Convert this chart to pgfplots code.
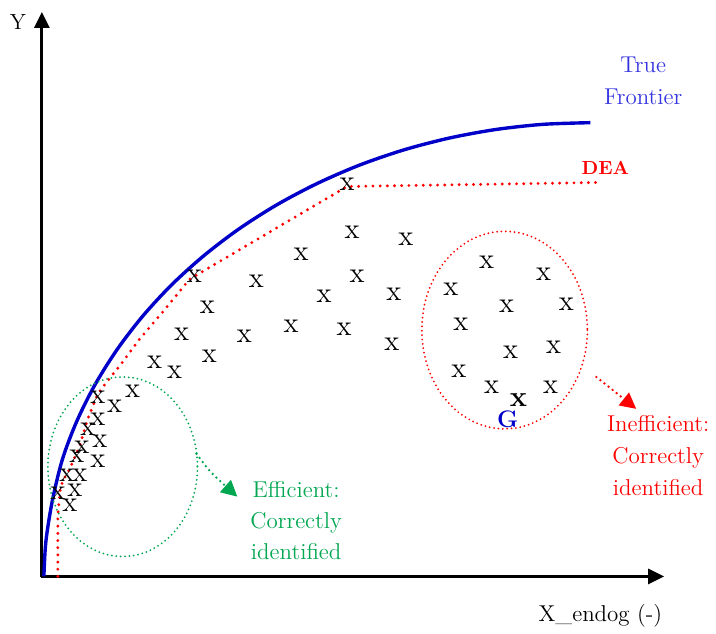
\documentclass[border=0pt]{standalone}
\usepackage{pgfplots}
\pgfplotsset{compat=1.18}
\usetikzlibrary{arrows.meta}
\definecolor{frontblue}{HTML}{0000C8}
\definecolor{textblue}{HTML}{3535E0}
\definecolor{deared}{HTML}{FF0000}
\definecolor{effgreen}{HTML}{00A650}
\begin{document}
\begin{tikzpicture}
\begin{axis}[
  width=358pt, height=315.5pt, scale only axis,
  xmin=0, xmax=716, ymin=0, ymax=631, y dir=reverse,
  axis line style={draw=none}, ticks=none, clip=false,
]
% axes
\addplot[black, line width=1.5pt, -{Triangle[length=8pt,width=7.5pt]}] coordinates {(42,579) (42,12)};
\addplot[black, line width=1.5pt, -{Triangle[length=8pt,width=7.5pt]}] coordinates {(41,578) (666,578)};
% true frontier
\addplot[frontblue, line width=1.7pt, smooth] coordinates {
(44,578) (46,543) (52.5,502) (62.7,460.2) (77,422.4) (95.3,385.7) (117.4,350.5)
(143.1,317) (172.2,285.5) (204.5,256.3) (239.7,229.5) (277.7,205.3) (318,184)
(360.4,165.6) (404.6,150.4) (450.2,138.5) (496.9,129.9) (544.2,124.7) (592,123)};
% DEA
\addplot[deared, line width=1.6pt, line cap=round, dash pattern=on 0pt off 3.6pt] coordinates {
(58,578) (58,517) (60,493) (63,482) (70,470) (80,447) (88,420) (98,395)
(107,383) (123,363) (140,340) (163,313) (190,280) (348,187) (600,183)};
% DMUs
\addplot[black, only marks, mark=text, text mark={\fontsize{14.5}{14.5}\selectfont x}] coordinates {
(348,185) (353,233) (407,240) (302,255) (195,277) (257,282) (358,277)
(325,297) (395,295) (208,308) (182,335) (245,337) (292,327) (345,330)
(393,345) (210,357) (155,363) (175,373) (133,392) (98,398) (115,407)
(98,420) (88,430) (100,442) (82,448) (77,458) (98,463) (67,477) (80,477)
(75,492) (58,495) (70,507)
(488,263) (545,275) (452,290) (508,307) (568,305) (462,325) (555,348)
(512,353) (460,372) (493,388) (552,388)};
\addplot[frontblue, only marks, mark=text, text mark={\fontsize{14.5}{14.5}\selectfont\bfseries x}] coordinates {(520,401)};
\node[frontblue, font=\bfseries\fontsize{12}{12}\selectfont] at (axis cs:509,420) {G};
% ellipses
\addplot[effgreen, line width=1pt, line cap=round, dash pattern=on 0pt off 2.2pt, smooth cycle, tension=1] coordinates {
(123,378) (198,468) (123,558) (48,468)};
\addplot[deared, line width=1pt, line cap=round, dash pattern=on 0pt off 2.2pt, smooth cycle, tension=1] coordinates {
(506,232) (589,331) (506,430) (423,331)};
% arrows
\addplot[effgreen, line width=1.3pt, line cap=round, dash pattern=on 0pt off 2.6pt, smooth, -{Triangle[length=8pt,width=8pt]}] coordinates {(197,455) (212,474) (238,498)};
\addplot[deared, line width=1.3pt, line cap=round, dash pattern=on 0pt off 2.6pt, -{Triangle[length=8pt,width=8pt]}] coordinates {(598,378) (638,410)};
% texts
\node[textblue, align=center, font=\fontsize{11.5}{16}\selectfont] at (axis cs:645,81) {True\\Frontier};
\node[deared, font=\bfseries\fontsize{9.5}{10}\selectfont] at (axis cs:607,168) {DEA};
\node[effgreen, align=center, font=\fontsize{11.5}{15.5}\selectfont] at (axis cs:297,522) {Efficient:\\Correctly\\identified};
\node[deared, align=center, font=\fontsize{11.5}{16}\selectfont] at (axis cs:660,457) {Inefficient:\\Correctly\\identified};
\node[black, font=\fontsize{11}{11}\selectfont] at (axis cs:18,22) {Y};
\node[black, font=\fontsize{11.5}{12}\selectfont] at (axis cs:602,617) {X\_endog (-)};
\end{axis}
\end{tikzpicture}
\end{document}
